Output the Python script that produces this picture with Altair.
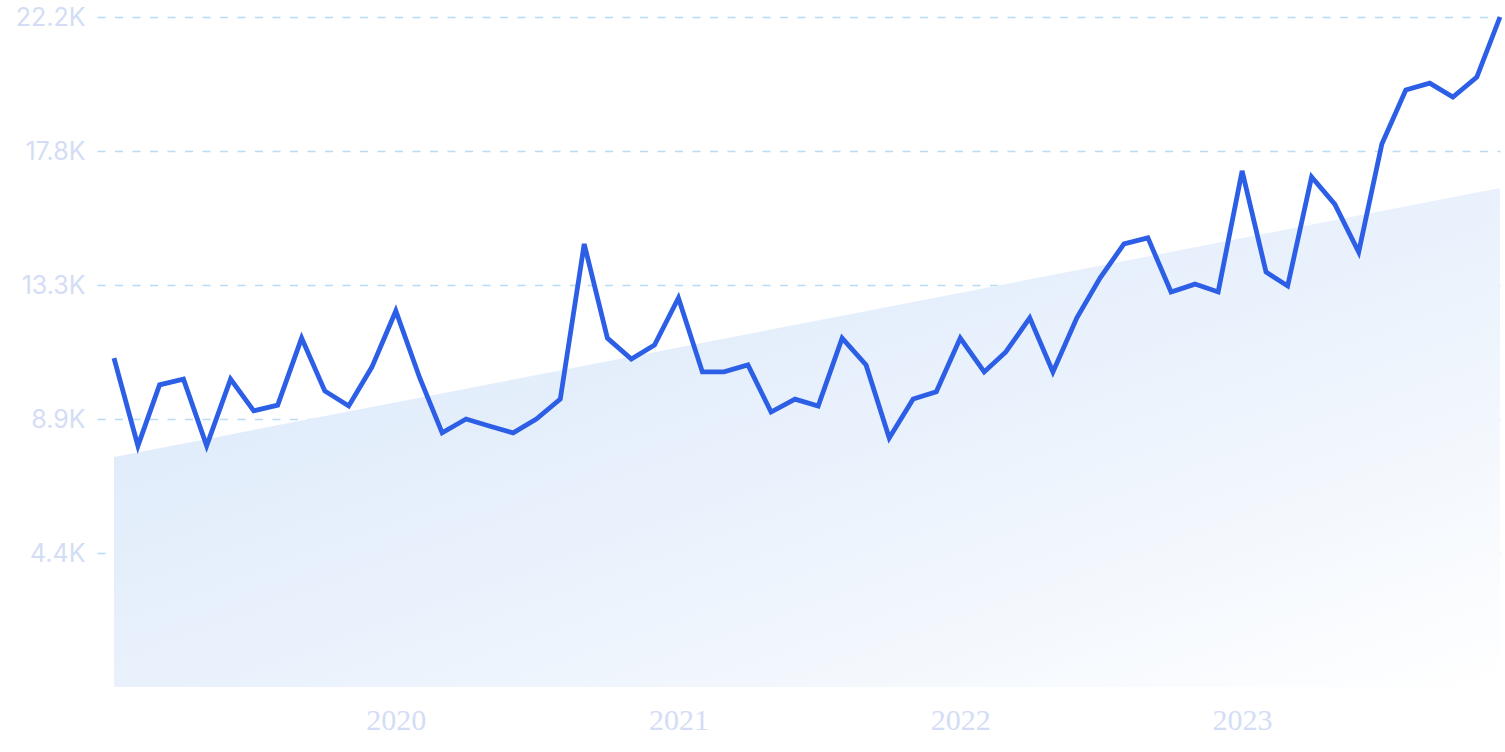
import altair as alt
import pandas as pd

months = pd.date_range("2019-01-01", "2023-12-01", freq="MS").strftime("%Y-%m-%d").tolist()
values = [
    10900, 7990, 10010, 10200, 7990, 10200, 9150, 9340, 11560, 9810, 9310, 10600,
    12460, 10240, 8420, 8880, 8650, 8420, 8880, 9540, 14680, 11560, 10870, 11330,
    12890, 10440, 10440, 10670, 9110, 9540, 9310, 11560, 10670, 8250, 9540, 9780,
    11560, 10440, 11100, 12230, 10440, 12230, 13550, 14680, 14880, 13090, 13350, 13090,
    17100, 13750, 13290, 16900, 16000, 14410, 17990, 19780, 20010, 19550, 20210, 22200,
]
trend_dates = ["2019-01-01", "2023-12-01"]
trend_values = [7620, 16530]
y_ticks = [4440, 8880, 13320, 17760, 22200]
x_ticks = ["2020-01-01", "2021-01-01", "2022-01-01", "2023-01-01"]
x_domain = ["2018-12-10", "2023-12-01"]

line_df = pd.DataFrame({"date": months, "value": values})
trend_df = pd.DataFrame({"date": trend_dates, "value": trend_values})

x_scale = alt.Scale(domain=x_domain)
y_scale = alt.Scale(domain=[0, 22200], nice=False)

x_axis = alt.Axis(
    values=x_ticks, format="%Y", labelFontSize=30, labelFont="Liberation Sans Narrow",
    labelColor="#d3ddf5", labelPadding=18, domain=False, ticks=False, grid=False,
    title=None, labelAlign="center",
)
y_axis = alt.Axis(
    values=y_ticks, labelExpr="format(datum.value / 1000, '.1f') + 'K'",
    labelFontSize=25, labelFont="Inter", labelColor="#d3ddf5", labelPadding=12,
    domain=False, ticks=False, grid=True, gridColor="#b8dcf5", gridOpacity=1,
    gridDash=[8, 9.5], gridWidth=1.6, title=None,
)

area = alt.Chart(trend_df).mark_area(
    color=alt.Gradient(
        gradient="linear",
        stops=[
            alt.GradientStop(color="#d9e7fa", offset=0),
            alt.GradientStop(color="#eaf2fc", offset=0.55),
            alt.GradientStop(color="#ffffff", offset=1),
        ],
        x1=0, y1=0, x2=1, y2=1,
    )
).encode(
    x=alt.X("date:T", scale=x_scale, axis=x_axis),
    y=alt.Y("value:Q", scale=y_scale, axis=y_axis),
)

line = alt.Chart(line_df).mark_line(
    color="#2d5fe6", strokeWidth=4.8, strokeJoin="miter", strokeCap="butt"
).encode(
    x=alt.X("date:T", scale=x_scale),
    y=alt.Y("value:Q", scale=y_scale),
)

chart = alt.layer(area, line).properties(
    width=1403, height=670,
    padding={"left": 97, "top": 17, "right": 5, "bottom": 65},
    autosize=alt.AutoSizeParams(type="none"),
    background="white",
).configure_view(stroke=None)

chart.save("out.html", embed_options={"renderer": "svg", "actions": False})
